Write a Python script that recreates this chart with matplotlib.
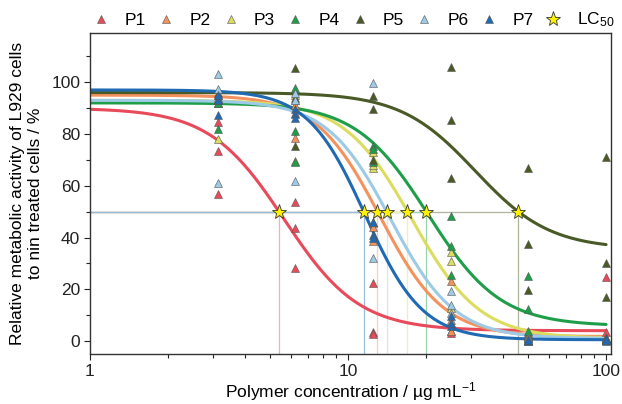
import numpy as np
import matplotlib
matplotlib.use('Agg')
import matplotlib.pyplot as plt
from matplotlib.ticker import FixedLocator, FixedFormatter, NullFormatter
from matplotlib.lines import Line2D
import matplotlib.colors as mcolors

plt.rcParams['font.family'] = ['Liberation Sans', 'DejaVu Sans']
plt.rcParams['mathtext.fontset'] = 'custom'
plt.rcParams['mathtext.rm'] = 'Liberation Sans'
plt.rcParams['mathtext.it'] = 'Liberation Sans:italic'
plt.rcParams['mathtext.bf'] = 'Liberation Sans:bold'

# ---------------- data ----------------
series = ['P1', 'P2', 'P3', 'P4', 'P5', 'P6', 'P7']
colors = ['#E84A5A', '#F4925E', '#DCDC5E', '#1F9E4A', '#4A5A26', '#9DCAE6', '#1F6AB3']
concentrations = [3.125, 6.25, 12.5, 25, 50, 100]

# replicate values (3 per concentration)
P1 = [[84.8, 73.6, 56.7], [53.7, 43.7, 28.3], [22.5, 3.5, 2.8], [7.1, 4.0, 3.0], [3.0, 2.5, 2.0], [24.8, 3.5, 1.0]]
P2 = [[93.0, 94.0, 92.0], [91.2, 78.4, 88.0], [45.7, 38.5, 44.0], [23.1, 3.9, 8.0], [1.5, 0.5, 1.0], [0.5, 0.8, 1.0]]
P3 = [[78.0, 92.0, 94.0], [95.0, 69.7, 93.0], [66.8, 68.0, 73.0], [34.3, 30.8, 12.9], [2.0, 1.0, 1.5], [0.5, 1.0, 0.3]]
P4 = [[82.0, 92.0, 93.0], [97.7, 81.2, 69.2], [75.4, 74.0, 69.0], [48.5, 36.6, 25.7], [25.3, 12.5, 3.9], [1.0, 0.5, 0.8]]
P5 = [[95.0, 96.0, 93.0], [105.6, 94.0, 75.2], [94.7, 89.6, 70.0], [105.8, 85.5, 63.0], [66.8, 37.3, 19.9], [71.1, 30.0, 17.1]]
P6 = [[103.0, 97.3, 61.0], [93.0, 61.7, 96.0], [99.6, 32.1, 46.0], [19.3, 14.1, 11.0], [1.0, 0.5, 0.2], [0.5, 0.3, 0.8]]
P7 = [[87.4, 93.0, 95.0], [89.7, 87.7, 86.2], [45.9, 41.1, 39.9], [9.6, 5.8, 7.1], [0.0, 0.5, 0.3], [0.7, 0.2, 0.5]]
values = [P1, P2, P3, P4, P5, P6, P7]

# fitted dose-response parameters
fit_top = [90.0, 95.0, 93.0, 92.0, 96.0, 93.0, 97.0]
fit_bottom = [4.0, 1.7, 1.0, 5.8, 35.5, 1.0, 0.5]
lc50 = [5.4, 13.0, 17.0, 20.1, 45.7, 14.1, 11.5]
fit_hill = [3.0, 3.5, 3.3, 3.1, 3.0, 3.5, 3.9]

legend_label_lc = 'LC$_{50}$'
xlabel = 'Polymer concentration / µg mL$^{-1}$'
ylabel = 'Relative metabolic activity of L929 cells\nto nin treated cells / %'

# ---------------- figure ----------------
fig = plt.figure(figsize=(6.22, 4.04), dpi=100)
ax = fig.add_axes([90/622, 1-354/404, (611-90)/622, (354-33)/404])
ax.set_xscale('log')
ax.set_xlim(1, 104.5)
ax.set_ylim(-5, 119)

def lighten(c, f=0.45):
    r, g, b = mcolors.to_rgb(c)
    return (1 - f + f*r, 1 - f + f*g, 1 - f + f*b)

def curve(x, top, bot, x50, h):
    c = x50 / ((top - bot) / (50 - bot) - 1) ** (1.0 / h)
    return bot + (top - bot) / (1 + (x / c) ** h)

# guide lines (horizontal to LC50 and vertical drop)
order = [0, 4, 3, 2, 5, 1, 6]
for i in order:
    lc = lighten(colors[i], 0.45)
    ax.plot([1, lc50[i]], [50, 50], color=lc, lw=0.9, zorder=1)
    ax.plot([lc50[i], lc50[i]], [-5, 50], color=lc, lw=0.9, zorder=1)

xs = np.logspace(0, 2, 400)
for i in range(len(series)):
    ax.plot(xs, curve(xs, fit_top[i], fit_bottom[i], lc50[i], fit_hill[i]),
            color=colors[i], lw=2.2, zorder=2, solid_capstyle='round')

for i in range(len(series)):
    for j, c in enumerate(concentrations):
        ax.plot([c]*len(values[i][j]), values[i][j], linestyle='none', marker='^',
                markersize=6, markerfacecolor=colors[i], markeredgecolor='#555555',
                markeredgewidth=0.4, zorder=3)

for i in range(len(series)):
    ax.plot([lc50[i]], [50], linestyle='none', marker='*', markersize=11,
            markerfacecolor='#FFF200', markeredgecolor='#333333', markeredgewidth=0.6, zorder=5)

# ticks
ax.xaxis.set_major_locator(FixedLocator([1, 10, 100]))
ax.xaxis.set_major_formatter(FixedFormatter(['1', '10', '100']))
minors = [m * d for d in [1, 10] for m in range(2, 10)]
ax.xaxis.set_minor_locator(FixedLocator(minors))
ax.xaxis.set_minor_formatter(NullFormatter())
ax.yaxis.set_major_locator(FixedLocator([0, 20, 40, 60, 80, 100]))
ax.yaxis.set_minor_locator(FixedLocator([10, 30, 50, 70, 90, 110]))

ax.tick_params(which='major', direction='out', length=4.5, width=0.8, labelsize=12.5,
               colors='#222222', pad=2.5)
ax.tick_params(which='minor', direction='out', length=2.6, width=0.8, colors='#222222')
for s in ax.spines.values():
    s.set_linewidth(1.0)
    s.set_color('#333333')

ax.set_xlabel(xlabel, fontsize=12.5, labelpad=1)
ax.set_ylabel(ylabel, fontsize=12.5, linespacing=1.25, labelpad=6)

handles = [Line2D([], [], linestyle='none', marker='^', markersize=6, markerfacecolor=colors[i],
                  markeredgecolor='#555555', markeredgewidth=0.4) for i in range(len(series))]
handles.append(Line2D([], [], linestyle='none', marker='*', markersize=11,
                      markerfacecolor='#FFF200', markeredgecolor='#333333', markeredgewidth=0.6))
labels = series + [legend_label_lc]
fig.legend(handles, labels, loc='center', bbox_to_anchor=((95+612)/2/622, 1-20/404),
           ncol=8, frameon=False, fontsize=12.5, handlelength=1.0, handletextpad=0.85,
           columnspacing=0.65, borderpad=0, borderaxespad=0)

fig.savefig('out.png', dpi=100)
